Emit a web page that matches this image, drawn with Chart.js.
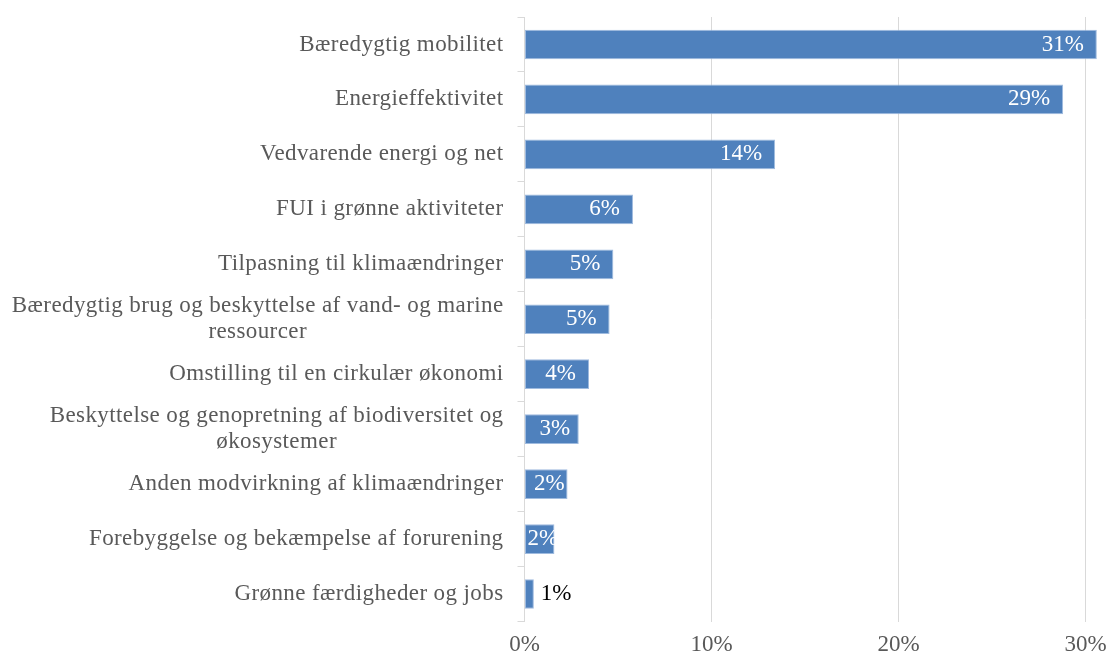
<!DOCTYPE html>
<html>
<head>
<meta charset="utf-8">
<script src="https://cdn.jsdelivr.net/npm/chart.js@4"></script>
<style>
  html, body { margin: 0; padding: 0; background: #fff; }
</style>
</head>
<body>
<canvas id="myChart" width="1109" height="657"></canvas>
<script>
(() => {
'use strict'

// data
const categories = [
  'Bæredygtig mobilitet',
  'Energieffektivitet',
  'Vedvarende energi og net',
  'FUI i grønne aktiviteter',
  'Tilpasning til klimaændringer',
  ['Bæredygtig brug og beskyttelse af vand- og marine', 'ressourcer'],
  'Omstilling til en cirkulær økonomi',
  ['Beskyttelse og genopretning af biodiversitet og', 'økosystemer'],
  'Anden modvirkning af klimaændringer',
  'Forebyggelse og bekæmpelse af forurening',
  'Grønne færdigheder og jobs'
]
const shares = [30.6, 28.8, 13.4, 5.8, 4.75, 4.55, 3.45, 2.9, 2.3, 1.6, 0.5]
const shareLabels = ['31%', '29%', '14%', '6%', '5%', '5%', '4%', '3%', '2%', '2%', '1%']
const xTicks = [0, 10, 20, 30]

const FONT = '"Liberation Serif", "Times New Roman", serif'
const GREY = '#595959'

// category labels, centred per label like the original (multi-line ones too)
const categoryLabels = {
  id: 'categoryLabels',
  afterDraw(chart) {
    const ctx = chart.ctx
    const y = chart.scales.y
    const right = chart.chartArea.left - 21
    const lh = 26
    ctx.save()
    ctx.font = '23px ' + FONT
    ctx.letterSpacing = '0.4px'
    ctx.fillStyle = GREY
    ctx.textAlign = 'center'
    ctx.textBaseline = 'middle'
    categories.forEach((lab, i) => {
      const lines = Array.isArray(lab) ? lab : [lab]
      const w = Math.max(...lines.map(l => ctx.measureText(l).width))
      const cy = y.getPixelForTick(i)
      lines.forEach((l, k) => {
        ctx.fillText(l, right - w / 2, cy + (k - (lines.length - 1) / 2) * lh)
      })
    })
    ctx.restore()
  }
}

// value labels on the bars
const valueLabels = {
  id: 'valueLabels',
  afterDatasetsDraw(chart) {
    const ctx = chart.ctx
    const meta = chart.getDatasetMeta(0)
    ctx.save()
    ctx.font = '23px ' + FONT
    ctx.textBaseline = 'middle'
    meta.data.forEach((bar, i) => {
      const txt = shareLabels[i]
      const w = ctx.measureText(txt).width
      const barW = bar.x - bar.base
      if (barW < 12) {
        ctx.fillStyle = '#000'
        ctx.textAlign = 'left'
        ctx.fillText(txt, bar.x + 7, bar.y)
      } else if (barW >= w + 31) {
        ctx.fillStyle = '#fff'
        ctx.textAlign = 'right'
        ctx.fillText(txt, bar.x - 13, bar.y)
      } else {
        ctx.fillStyle = '#fff'
        ctx.textAlign = 'center'
        ctx.fillText(txt, (bar.x + bar.base) / 2 + 3, bar.y)
      }
    })
    ctx.restore()
  }
}

const ctx2 = document.getElementById('myChart')

new Chart(ctx2, {
  type: 'bar',
  data: {
    labels: categories,
    datasets: [{
      data: shares,
      backgroundColor: '#4f81bd',
      borderColor: '#9fbbdf',
      borderWidth: 1,
      borderSkipped: false,
      barPercentage: 0.54,
      categoryPercentage: 1
    }]
  },
  options: {
    indexAxis: 'y',
    responsive: false,
    animation: false,
    events: [],
    layout: { padding: { top: 17, right: 9, left: 0, bottom: 0 } },
    plugins: {
      legend: { display: false },
      tooltip: { enabled: false }
    },
    scales: {
      x: {
        min: 0,
        max: 30.77,
        afterBuildTicks: (scale) => { scale.ticks = xTicks.map(v => ({ value: v })) },
        afterFit: (scale) => {
          scale.height = 35.5
          scale.paddingRight = 0
          scale.paddingLeft = 0
        },
        grid: { color: '#d9d9d9', drawTicks: false },
        border: { display: false },
        ticks: {
          callback: v => v + '%',
          color: GREY,
          font: { family: FONT, size: 23 },
          padding: 10,
          maxRotation: 0
        }
      },
      y: {
        afterFit: (scale) => { scale.width = 524.5 },
        grid: {
          color: '#d9d9d9',
          drawOnChartArea: false,
          drawTicks: true,
          tickLength: 7,
          offset: true
        },
        border: { color: '#d9d9d9' },
        ticks: { display: false }
      }
    }
  },
  plugins: [categoryLabels, valueLabels]
})
})()
</script>
</body>
</html>
